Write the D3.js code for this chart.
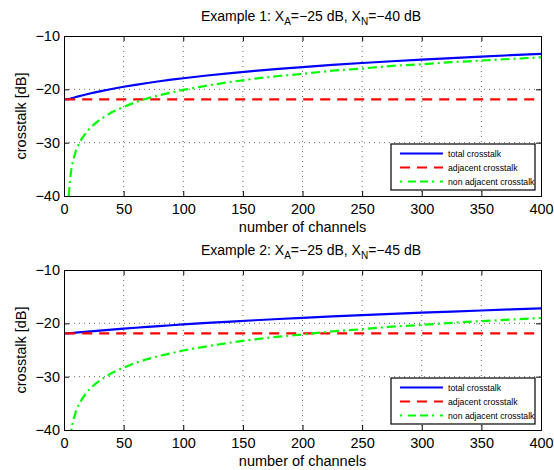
<!DOCTYPE html>
<html>
<head>
<meta charset="utf-8">
<script src="https://cdn.jsdelivr.net/npm/d3@7/dist/d3.min.js"></script>
<style>
  body { margin: 0; background: #fff; }
  svg { font-family: "Liberation Sans", Arial, Helvetica, sans-serif; }
</style>
</head>
<body>
<div id="chart"></div>
<script>
// number of channels (x values)
const channels = [1, 4, 5, 6, 7, 8, 10, 12, 15, 20, 25, 30, 40, 50, 60, 70, 80, 90, 100,
  120, 140, 160, 180, 200, 225, 250, 275, 300, 325, 350, 375, 400];

// Example 1: XA = -25 dB, XN = -40 dB
const total1 = [-21.9, -21.83, -21.77, -21.7, -21.64, -21.58, -21.45, -21.33, -21.16, -20.88, -20.63, -20.38,
  -19.93, -19.52, -19.15, -18.81, -18.49, -18.19, -17.92, -17.41, -16.96, -16.55, -16.17, -15.82,
  -15.43, -15.06, -14.73, -14.42, -14.13, -13.86, -13.6, -13.36];
const adjacent1 = channels.map(() => -21.9);
const nonAdjacent1 = [null, -40, -37.0, -35.2, -34.0, -33.0, -31.5, -30.5, -29.2, -27.7, -26.6, -25.7,
  -24.3, -23.3, -22.4, -21.7, -21.1, -20.6, -20.1, -19.3, -18.6, -18.0, -17.5, -17.1,
  -16.5, -16.1, -15.6, -15.3, -14.9, -14.6, -14.3, -14.0];

// Example 2: XA = -25 dB, XN = -45 dB
const total2 = [-21.9, -21.88, -21.86, -21.84, -21.82, -21.79, -21.75, -21.71, -21.65, -21.55, -21.46, -21.36,
  -21.18, -21.0, -20.83, -20.67, -20.51, -20.36, -20.21, -19.93, -19.67, -19.42, -19.19, -18.97,
  -18.7, -18.46, -18.22, -18.0, -17.79, -17.59, -17.39, -17.21];
const adjacent2 = channels.map(() => -21.9);
const nonAdjacent2 = [null, -45, -42.0, -40.2, -39.0, -38.0, -36.5, -35.5, -34.2, -32.7, -31.6, -30.7,
  -29.3, -28.3, -27.4, -26.7, -26.1, -25.6, -25.1, -24.3, -23.6, -23.0, -22.5, -22.1,
  -21.5, -21.1, -20.6, -20.3, -19.9, -19.6, -19.3, -19.0];

const xTicks = [0, 50, 100, 150, 200, 250, 300, 350, 400];
const yTicks = [-10, -20, -30, -40];
const legendLabels = ["total crosstalk", "adjacent crosstalk", "non adjacent crosstalk"];

const W = 554, H = 470;
const svg = d3.select("#chart").append("svg").attr("width", W).attr("height", H);

const x = d3.scaleLinear().domain([0, 400]).range([64, 541]);

const styles = [
  { color: "#0000ff", dash: null },
  { color: "#ff0000", dash: "10,7" },
  { color: "#00ff00", dash: "9,4,2,4" }
];

function panel(idx, top, bottom, title, sub2, series) {
  const y = d3.scaleLinear().domain([-40, -10]).range([bottom, top]);
  const g = svg.append("g");

  g.append("clipPath").attr("id", "clip" + idx)
    .append("rect").attr("x", x(0)).attr("y", top).attr("width", x(400) - x(0)).attr("height", bottom - top);

  // grid
  g.append("g").selectAll("line").data(xTicks.slice(1, -1)).join("line")
    .attr("x1", d => x(d)).attr("x2", d => x(d)).attr("y1", top).attr("y2", bottom)
    .attr("stroke", "#000").attr("stroke-opacity", 0.6).attr("stroke-dasharray", "1,4");
  g.append("g").selectAll("line").data(yTicks.slice(1, -1)).join("line")
    .attr("y1", d => y(d)).attr("y2", d => y(d)).attr("x1", x(0)).attr("x2", x(400))
    .attr("stroke", "#000").attr("stroke-opacity", 0.6).attr("stroke-dasharray", "1,4");

  // lines
  const line = d3.line()
    .defined(d => d[1] !== null)
    .x(d => x(d[0])).y(d => y(d[1]));
  series.forEach((vals, i) => {
    g.append("path")
      .datum(channels.map((c, j) => [c, vals[j]]))
      .attr("clip-path", `url(#clip${idx})`)
      .attr("fill", "none")
      .attr("stroke", styles[i].color)
      .attr("stroke-width", 2.2)
      .attr("stroke-dasharray", styles[i].dash)
      .attr("d", line);
  });

  // axes (matlab style, ticks inside, all four sides)
  const tl = 5;
  g.append("g").attr("transform", `translate(0,${bottom})`)
    .call(d3.axisBottom(x).tickValues(xTicks).tickSize(-tl).tickPadding(8).tickFormat(d3.format("d")));
  g.append("g").attr("transform", `translate(0,${top})`)
    .call(d3.axisTop(x).tickValues(xTicks).tickSize(-tl).tickFormat(""));
  g.append("g").attr("transform", `translate(${x(0)},0)`)
    .call(d3.axisLeft(y).tickValues(yTicks).tickSize(-tl).tickPadding(4).tickFormat(d => "\u2212" + Math.abs(d)));
  g.append("g").attr("transform", `translate(${x(400)},0)`)
    .call(d3.axisRight(y).tickValues(yTicks).tickSize(-tl).tickFormat(""));
  g.selectAll(".domain").attr("stroke", "#000").attr("stroke-width", 1);
  g.selectAll(".tick line").attr("stroke", "#000");
  g.selectAll(".tick text").attr("font-size", 14.5).attr("fill", "#000");

  // title with subscripts
  const t = g.append("text").attr("x", 311).attr("y", top - 15)
    .attr("text-anchor", "middle").attr("font-size", 14);
  t.append("tspan").text(title + " X");
  t.append("tspan").attr("font-size", 10).attr("dy", 4).text("A");
  t.append("tspan").attr("dy", -4).text("=\u221225 dB, X");
  t.append("tspan").attr("font-size", 10).attr("dy", 4).text("N");
  t.append("tspan").attr("dy", -4).text("=\u2212" + sub2 + " dB");

  // axis labels
  g.append("text").attr("x", (x(0) + x(400)) / 2).attr("y", bottom + 36)
    .attr("text-anchor", "middle").attr("font-size", 14.5).text("number of channels");
  g.append("text").attr("transform", `translate(26,${(top + bottom) / 2}) rotate(-90)`)
    .attr("text-anchor", "middle").attr("font-size", 14.5).text("crosstalk [dB]");

  // legend
  const lx = 391, ly = bottom - 52, lw = 144, lh = 46;
  const lg = g.append("g");
  lg.append("rect").attr("x", lx).attr("y", ly).attr("width", lw).attr("height", lh)
    .attr("fill", "#fff").attr("stroke", "#000").attr("stroke-width", 1.2);
  legendLabels.forEach((lab, i) => {
    const yy = ly + 9.5 + i * 14;
    lg.append("line").attr("x1", lx + 9).attr("x2", lx + 52).attr("y1", yy).attr("y2", yy)
      .attr("stroke", styles[i].color).attr("stroke-width", 2.2)
      .attr("stroke-dasharray", i === 2 ? "2,6,8,4,8,4" : styles[i].dash);
    lg.append("text").attr("x", lx + 57).attr("y", yy + 3).attr("font-size", 8.7).text(lab);
  });
}

panel(1, 36, 196, "Example 1:", "40", [total1, adjacent1, nonAdjacent1]);
panel(2, 270, 430, "Example 2:", "45", [total2, adjacent2, nonAdjacent2]);
</script>
</body>
</html>
